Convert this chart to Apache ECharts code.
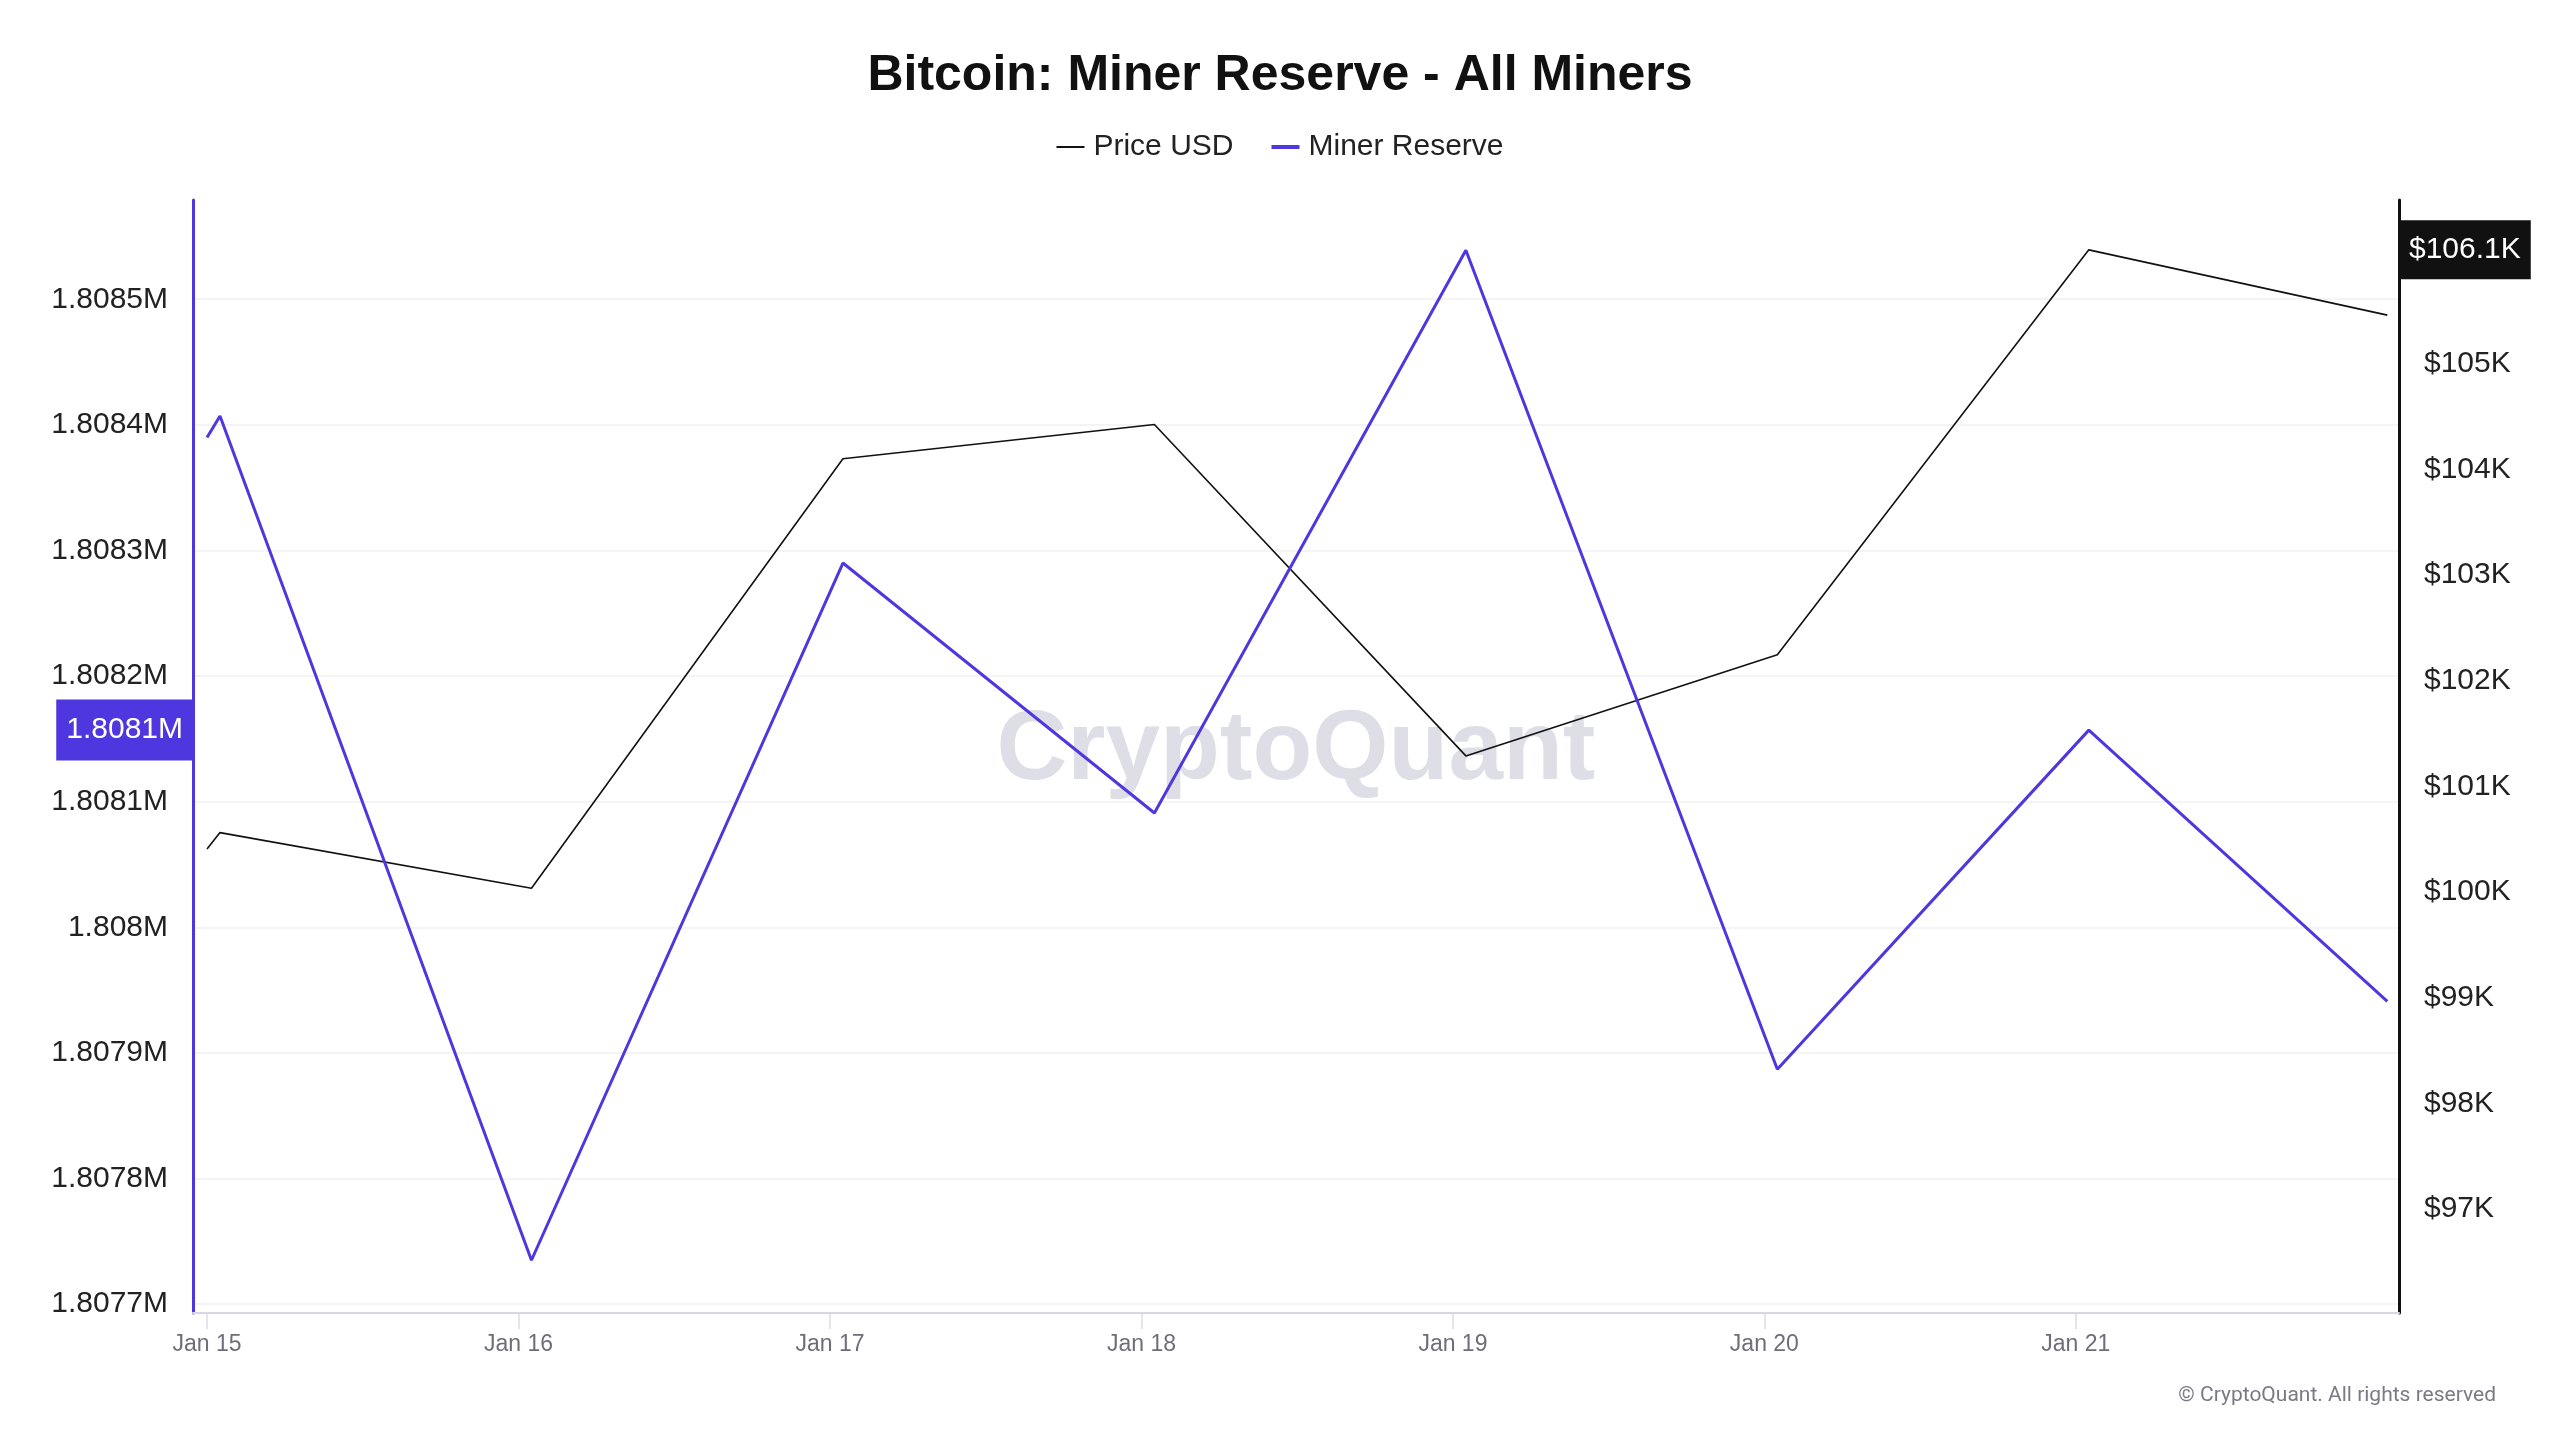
<!DOCTYPE html>
<html><head><meta charset="utf-8">
<script src="https://cdn.jsdelivr.net/npm/echarts@6/dist/echarts.min.js"></script>
<style>html,body{margin:0;padding:0;background:#fff}#c{width:2560px;height:1440px}</style>
</head><body><div id="c"></div>
<script>
// ---- data ----
const times = ['2025-01-15T00:00','2025-01-15T01:00','2025-01-16T01:00','2025-01-17T01:00','2025-01-18T01:00','2025-01-19T01:00','2025-01-20T01:00','2025-01-21T01:00','2025-01-22T00:00'];
const priceUSD = [100408,100563,100037,104102,104427,101289,102247,106080,105462];
const minerReserve = [1808390,1808407,1807735,1808290,1808091,1808539,1807887,1808157,1807941];
const xTickTimes = ['2025-01-15T00:00','2025-01-16T00:00','2025-01-17T00:00','2025-01-18T00:00','2025-01-19T00:00','2025-01-20T00:00','2025-01-21T00:00'];
const xTickLabels = ['Jan 15','Jan 16','Jan 17','Jan 18','Jan 19','Jan 20','Jan 21'];
const reserveTicks = [1807700,1807800,1807900,1808000,1808100,1808200,1808300,1808400,1808500];
const priceTicks = [97000,98000,99000,100000,101000,102000,103000,104000,105000];
const markerIndex = 7;

// ---- helpers ----
const base = Date.parse(times[0] + 'Z');
const toH = t => (Date.parse(t + 'Z') - base) / 3.6e6;
const xs = times.map(toH);
const xTicks = xTickTimes.map(toH);
const FONT = 'Liberation Sans, Arial, sans-serif';
const PURPLE = '#4f37df';

const fmtReserve = v => parseFloat((v / 1e6).toFixed(4)) + 'M';
const fmtReserveTrunc = v => (Math.floor(v / 100) / 1e4) + 'M';

const chart = echarts.init(document.getElementById('c'), null, {renderer: 'canvas'});
chart.setOption({
  backgroundColor: '#ffffff',
  animation: false,
  title: {
    text: 'Bitcoin: Miner Reserve - All Miners',
    left: 'center', top: 46,
    textStyle: {fontFamily: FONT, fontWeight: 'bold', fontSize: 50, color: '#111'}
  },
  legend: {
    top: 127, left: 'center',
    itemWidth: 28, itemHeight: 14, itemGap: 38, symbolKeepAspect: true,
    textStyle: {fontFamily: FONT, fontSize: 30, color: '#222', padding: [0, 0, 0, 4]},
    data: [
      {name: 'Price USD', icon: 'path://M0,0H28V2H0Z'},
      {name: 'Miner Reserve', icon: 'path://M0,0H28V4H0Z'}
    ]
  },
  grid: {left: 193, right: 161, top: 200, bottom: 127, containLabel: false},
  graphic: [
    {type: 'text', x: 1296, y: 752, z: 0, silent: true,
     style: {text: 'CryptoQuant', fontFamily: FONT, fontWeight: 'bold', fontSize: 98,
             fill: 'rgba(205,205,218,0.65)', textAlign: 'center', textVerticalAlign: 'middle'}},
    {type: 'text', x: 2496, y: 1396, silent: true,
     style: {text: '© CryptoQuant. All rights reserved', fontFamily: 'Roboto, ' + FONT, fontSize: 21,
             fill: '#7a7a85', textAlign: 'right', textVerticalAlign: 'middle'}}
  ],
  xAxis: {
    type: 'value', min: -1.08, max: 168.9,
    axisLine: {show: true, onZero: false, lineStyle: {color: '#d7d7e1', width: 2}},
    axisTick: {show: true, length: 16, customValues: xTicks, lineStyle: {color: '#dcdce4', width: 1.5}},
    axisLabel: {customValues: xTicks, margin: 20, fontFamily: FONT, fontSize: 23, color: '#6e6e7a',
      formatter: v => xTickLabels[Math.round(v / 24)] || ''},
    splitLine: {show: false}
  },
  yAxis: [
    {
      type: 'value', position: 'left', min: 1807693, max: 1808579,
      axisLine: {show: true, onZero: false, lineStyle: {color: PURPLE, width: 3}},
      axisTick: {show: false, customValues: reserveTicks},
      axisLabel: {customValues: reserveTicks, margin: 25, fontFamily: FONT, fontSize: 30, color: '#222',
        formatter: fmtReserve},
      splitLine: {show: true, lineStyle: {color: '#f1f1f3', width: 1.5}}
    },
    {
      type: 'value', position: 'right', min: 96015, max: 106552,
      axisLine: {show: true, onZero: false, lineStyle: {color: '#111', width: 3}},
      axisTick: {show: false, customValues: priceTicks},
      axisLabel: {customValues: priceTicks, margin: 25, fontFamily: FONT, fontSize: 30, color: '#222',
        formatter: v => '$' + (v / 1000) + 'K'},
      splitLine: {show: false}
    }
  ],
  series: [
    {
      name: 'Price USD', type: 'line', yAxisIndex: 1, z: 3,
      data: xs.map((x, i) => [x, priceUSD[i]]),
      symbol: 'none', showSymbol: false,
      lineStyle: {color: '#111', width: 1.6}, itemStyle: {color: '#111'},
      markLine: {
        silent: true, symbol: ['none', 'none'],
        lineStyle: {color: 'rgba(0,0,0,0)', width: 0},
        label: {show: true, position: 'end', distance: 0, fontFamily: FONT, fontSize: 30, color: '#fff',
          backgroundColor: '#111', padding: [15, 10, 14, 10],
          formatter: p => '$' + (p.value / 1000).toFixed(1) + 'K'},
        data: [{yAxis: priceUSD[markerIndex]}]
      }
    },
    {
      name: 'Miner Reserve', type: 'line', yAxisIndex: 0, z: 4,
      data: xs.map((x, i) => [x, minerReserve[i]]),
      symbol: 'none', showSymbol: false,
      lineStyle: {color: PURPLE, width: 3}, itemStyle: {color: PURPLE},
      markLine: {
        silent: true, symbol: ['none', 'none'],
        lineStyle: {color: 'rgba(0,0,0,0)', width: 0},
        label: {show: true, position: 'start', distance: 0, fontFamily: FONT, fontSize: 30, color: '#fff',
          backgroundColor: PURPLE, padding: [16, 10, 15, 10],
          formatter: p => fmtReserveTrunc(p.value)},
        data: [{yAxis: minerReserve[markerIndex]}]
      }
    }
  ]
});
</script>
</body></html>
